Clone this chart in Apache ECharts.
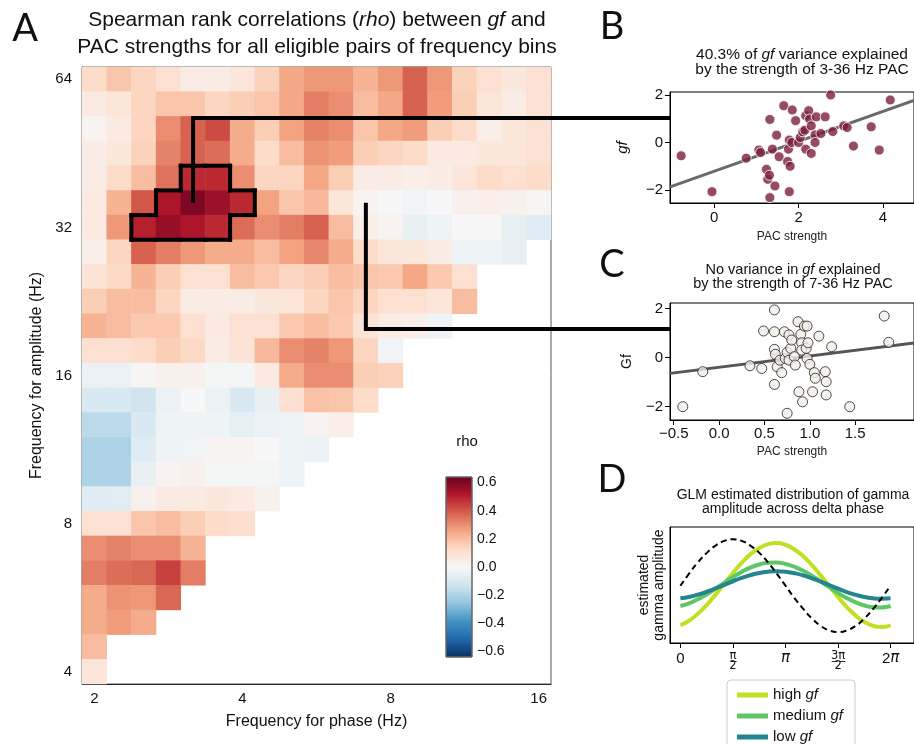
<!DOCTYPE html>
<html>
<head>
<meta charset="utf-8">
<script src="https://cdn.jsdelivr.net/npm/echarts@6/dist/echarts.min.js"></script>
<style>
  html, body { margin: 0; padding: 0; background: #fff; }
  #main { width: 914px; height: 744px; }
</style>
</head>
<body>
<div id="main"></div>
<script>
// ---- panel A : rho heatmap (rows listed from 64 Hz down to 4 Hz) ----
const phaseHz = [2, 2.24, 2.52, 2.83, 3.17, 3.56, 4, 4.49, 5.04, 5.66, 6.35, 7.13, 8, 8.98, 10.08, 11.31, 12.7, 14.25, 16];
const ampHz = [4, 4.49, 5.04, 5.66, 6.35, 7.13, 8, 8.98, 10.08, 11.31, 12.7, 14.25, 16, 17.96, 20.16, 22.63, 25.4, 28.51, 32, 35.92, 40.32, 45.25, 50.8, 57.02, 64];
const rhoRows = [
  [0.12, 0.18, 0.14, 0.10, 0.05, 0.05, 0.08, 0.15, 0.25, 0.28, 0.28, 0.22, 0.28, 0.38, 0.28, 0.15, 0.10, 0.07, 0.10],
  [0.06, 0.08, 0.14, 0.18, 0.18, 0.14, 0.16, 0.18, 0.25, 0.33, 0.30, 0.20, 0.25, 0.38, 0.27, 0.16, 0.08, 0.05, 0.10],
  [0.02, 0.06, 0.14, 0.30, 0.38, 0.42, 0.24, 0.16, 0.26, 0.32, 0.30, 0.18, 0.25, 0.27, 0.16, 0.12, 0.04, 0.08, 0.10],
  [0.05, 0.07, 0.15, 0.32, 0.38, 0.36, 0.24, 0.12, 0.20, 0.29, 0.27, 0.16, 0.14, 0.12, 0.06, 0.06, 0.07, 0.07, 0.10],
  [0.05, 0.12, 0.20, 0.35, 0.48, 0.48, 0.30, 0.14, 0.14, 0.25, 0.16, 0.05, 0.05, 0.04, 0.05, 0.08, 0.12, 0.10, 0.12],
  [0.06, 0.22, 0.40, 0.52, 0.60, 0.55, 0.48, 0.26, 0.18, 0.21, 0.08, 0.02, 0.00, -0.02, 0.00, 0.03, 0.04, 0.03, 0.01],
  [0.06, 0.28, 0.50, 0.56, 0.52, 0.48, 0.36, 0.30, 0.33, 0.38, 0.20, 0.04, 0.02, -0.05, -0.03, 0.00, 0.00, -0.05, -0.08],
  [0.04, 0.14, 0.38, 0.33, 0.28, 0.24, 0.24, 0.20, 0.26, 0.31, 0.24, 0.12, 0.08, 0.07, 0.05, -0.03, -0.03, -0.05],
  [0.09, 0.13, 0.22, 0.16, 0.10, 0.10, 0.20, 0.17, 0.14, 0.16, 0.20, 0.18, 0.17, 0.25, 0.17, 0.10],
  [0.16, 0.20, 0.20, 0.14, 0.05, 0.05, 0.05, 0.07, 0.08, 0.14, 0.18, 0.14, 0.10, 0.10, 0.08, 0.20],
  [0.22, 0.20, 0.17, 0.17, 0.10, 0.06, 0.10, 0.10, 0.17, 0.20, 0.17, 0.09, 0.05, 0.04, -0.03],
  [0.10, 0.10, 0.12, 0.16, 0.13, 0.05, 0.09, 0.21, 0.30, 0.32, 0.28, 0.14, -0.02],
  [-0.04, -0.04, 0.01, 0.03, 0.03, -0.01, -0.01, 0.06, 0.24, 0.30, 0.30, 0.16, 0.15],
  [-0.10, -0.10, -0.13, -0.04, 0.00, -0.04, -0.10, -0.05, 0.10, 0.19, 0.18, 0.12],
  [-0.17, -0.17, -0.10, -0.03, -0.03, -0.03, -0.06, -0.04, -0.03, 0.02, 0.04],
  [-0.20, -0.20, -0.08, -0.03, -0.02, 0.02, 0.02, 0.00, -0.03, -0.04],
  [-0.20, -0.20, -0.05, 0.02, 0.03, -0.01, -0.01, -0.01, -0.03],
  [-0.08, -0.07, 0.03, 0.06, 0.06, 0.07, 0.06, 0.03],
  [0.10, 0.10, 0.18, 0.20, 0.16, 0.12, 0.11],
  [0.30, 0.32, 0.30, 0.30, 0.22],
  [0.33, 0.36, 0.37, 0.44, 0.33],
  [0.24, 0.29, 0.28, 0.37],
  [0.24, 0.27, 0.24],
  [0.20],
  [0.08]
];
// significant cluster, [phase index, amplitude index]
const clusterCells = [[4, 20], [5, 20], [3, 19], [4, 19], [5, 19], [6, 19], [2, 18], [3, 18], [4, 18], [5, 18]];
const rhoTicks = [-0.6, -0.4, -0.2, 0, 0.2, 0.4, 0.6];
const rdbu = ['#053061', '#2166ac', '#4393c3', '#92c5de', '#d1e5f0', '#f7f7f7', '#fddbc7', '#f4a582', '#d6604d', '#b2182b', '#67001f'];

// ---- panel B : 3-36 Hz PAC ----
const bPac = [-0.78, -0.05, 0.76, 1.06, 1.10, 1.32, 1.38, 1.24, 1.27, 1.31, 1.32, 1.44, 1.48, 1.54, 1.65, 1.76, 1.74, 1.80, 1.78, 1.78, 1.84, 1.85, 1.93, 2.00, 2.04, 2.10, 2.15, 2.17, 2.17, 2.24, 2.26, 2.30, 2.30, 2.39, 2.39, 2.42, 2.53, 2.63, 2.76, 2.81, 3.07, 3.15, 3.30, 3.72, 3.91, 4.17];
const bGf = [-0.56, -2.07, -0.66, -0.32, -0.42, 0.97, -0.28, -1.13, -1.55, -1.38, -2.32, -1.83, 0.31, -0.60, 1.55, -0.28, -0.80, -1.00, -2.07, 0.10, 0.00, 1.37, 0.92, 0.00, 0.21, 0.45, 0.52, -0.28, 1.13, 1.34, 0.99, 0.70, -0.46, 0.32, 0.00, 1.08, 0.38, 1.08, 2.00, 0.46, 0.70, 0.63, -0.15, 0.66, -0.32, 1.79];
const bFit = [[-1.04, -1.87], [4.73, 1.77]];

// ---- panel C : 7-36 Hz PAC ----
const cPac = [-0.40, -0.18, 0.34, 0.47, 0.49, 0.61, 0.61, 0.61, 0.62, 0.61, 0.64, 0.67, 0.69, 0.72, 0.73, 0.75, 0.75, 0.77, 0.77, 0.79, 0.80, 0.83, 0.84, 0.87, 0.88, 0.90, 0.91, 0.91, 0.92, 0.94, 0.96, 0.97, 0.98, 0.97, 1.00, 1.03, 1.05, 1.06, 1.10, 1.17, 1.18, 1.18, 1.24, 1.44, 1.82, 1.87];
const cGf = [-2.00, -0.57, -0.33, -0.44, 1.09, 1.95, 1.06, 0.34, 0.14, -1.09, -0.37, -0.10, -0.61, 1.06, -0.03, 0.22, -2.27, 0.93, -0.10, 0.38, 0.72, 0.04, -0.30, 1.47, -1.39, 0.95, 0.61, 0.31, -1.80, 1.29, 0.38, 1.29, 0.61, -0.03, -0.27, -1.39, -0.61, -0.84, 0.88, -0.57, -0.98, -1.52, 0.45, -2.00, 1.70, 0.63];
const cFit = [[-0.54, -0.64], [2.15, 0.60]];

// ---- panel D : GLM amplitude over delta phase (read every 15 degrees) ----
const phaseRad = [0, 0.26, 0.52, 0.79, 1.05, 1.31, 1.57, 1.83, 2.09, 2.36, 2.62, 2.88, 3.14, 3.40, 3.67, 3.93, 4.19, 4.45, 4.71, 4.97, 5.24, 5.50, 5.76, 6.02, 6.28];
const ampHigh = [0.153, 0.192, 0.252, 0.328, 0.417, 0.511, 0.604, 0.691, 0.764, 0.819, 0.852, 0.862, 0.847, 0.808, 0.748, 0.672, 0.583, 0.489, 0.396, 0.309, 0.236, 0.181, 0.148, 0.138, 0.153];
const ampMed = [0.319, 0.342, 0.377, 0.420, 0.469, 0.519, 0.569, 0.613, 0.650, 0.677, 0.691, 0.693, 0.681, 0.658, 0.623, 0.580, 0.531, 0.481, 0.431, 0.387, 0.350, 0.323, 0.309, 0.307, 0.319];
const ampLow = [0.385, 0.397, 0.417, 0.442, 0.470, 0.501, 0.532, 0.561, 0.585, 0.604, 0.615, 0.619, 0.615, 0.602, 0.583, 0.558, 0.530, 0.499, 0.468, 0.439, 0.415, 0.396, 0.385, 0.381, 0.385];
const deltaWave = [0.494, 0.598, 0.694, 0.777, 0.840, 0.880, 0.894, 0.880, 0.840, 0.777, 0.694, 0.598, 0.494, 0.390, 0.294, 0.211, 0.148, 0.108, 0.094, 0.108, 0.148, 0.211, 0.294, 0.390, 0.494];
const piTicks = [0, Math.PI / 2, Math.PI, 1.5 * Math.PI, 2 * Math.PI];
const piLabels = ['0', '{f|\u03c0\u0332}\n{f|2}', '{p|\u03c0}', '{f|3\u0332\u03c0\u0332}\n{f|2}', '2{p|\u03c0}'];

const font = 'Liberation Sans, Arial, Helvetica, sans-serif';
const minus = v => String(v).replace('-', '\u2212');
const zip = (xs, ys) => xs.map((x, i) => [x, ys[i]]);

const heatData = [];
rhoRows.forEach((row, r) => {
  row.forEach((v, c) => heatData.push([c, ampHz.length - 1 - r, v]));
});

function valueAxis(grid, min, max, ticks, extra) {
  return Object.assign({
    gridIndex: grid, type: 'value', min: min, max: max,
    axisLine: { show: true, onZero: false, lineStyle: { color: '#000', width: 1 } },
    axisTick: { show: true, customValues: ticks, length: 5, lineStyle: { color: '#000' } },
    axisLabel: { customValues: ticks, fontSize: 15, color: '#111', fontFamily: font, margin: 7, formatter: minus },
    splitLine: { show: false }
  }, extra);
}

const chart = echarts.init(document.getElementById('main'));

const option = {
  animation: false,
  textStyle: { fontFamily: font },
  grid: [
    { left: 82, top: 67, width: 469, height: 617, show: true, borderColor: '#555', borderWidth: 1 },
    { left: 446, top: 477, width: 26, height: 180 },
    { left: 670, top: 92, width: 260, height: 111, show: true, borderColor: '#000', borderWidth: 1 },
    { left: 670, top: 303, width: 260, height: 117, show: true, borderColor: '#000', borderWidth: 1 },
    { left: 670, top: 527, width: 260, height: 116, show: true, borderColor: '#000', borderWidth: 1 }
  ],
  xAxis: [
    {
      gridIndex: 0, type: 'category', data: phaseHz.map(String),
      axisLine: { lineStyle: { color: '#222' } },
      axisTick: { interval: 5, alignWithLabel: true, length: 6, lineStyle: { color: '#222' } },
      axisLabel: { interval: 5, fontSize: 15, color: '#111', margin: 7, formatter: v => String(Math.round(Number(v))) },
      splitLine: { show: false },
      name: 'Frequency for phase (Hz)', nameLocation: 'middle', nameGap: 30,
      nameTextStyle: { fontSize: 16, color: '#111' }
    },
    { gridIndex: 1, type: 'value', min: 0, max: 1, show: false },
    valueAxis(2, -1.044, 4.733, [0, 2, 4], {
      name: 'PAC strength', nameLocation: 'middle', nameGap: 28,
      nameTextStyle: { fontSize: 12, color: '#222' }
    }),
    valueAxis(3, -0.541, 2.148, [-0.5, 0, 0.5, 1, 1.5], {
      axisLabel: {
        customValues: [-0.5, 0, 0.5, 1, 1.5], fontSize: 15, color: '#111', margin: 6,
        formatter: v => minus(v.toFixed(1))
      },
      name: 'PAC strength', nameLocation: 'middle', nameGap: 26,
      nameTextStyle: { fontSize: 12, color: '#222' }
    }),
    valueAxis(4, -0.31, 6.98, piTicks, {
      axisLabel: {
        customValues: piTicks, fontSize: 15, color: '#111', margin: 8,
        formatter: v => piLabels[piTicks.findIndex(t => Math.abs(t - v) < 1e-6)],
        rich: {
          f: { fontSize: 11.5, lineHeight: 10, color: '#111', fontFamily: 'DejaVu Sans' },
          p: { fontSize: 15, color: '#111', fontFamily: 'DejaVu Sans', fontStyle: 'italic' }
        }
      }
    })
  ],
  yAxis: [
    {
      gridIndex: 0, type: 'category', data: ampHz.map(String),
      axisLine: { lineStyle: { color: '#222' } },
      axisTick: { interval: 5, alignWithLabel: true, length: 6, lineStyle: { color: '#222' } },
      axisLabel: { interval: 5, fontSize: 15, color: '#111', margin: 10, formatter: v => String(Math.round(Number(v))) },
      splitLine: { show: false },
      name: 'Frequency for amplitude (Hz)', nameLocation: 'middle', nameGap: 34,
      nameTextStyle: { fontSize: 16, color: '#111' }
    },
    valueAxis(1, -0.64, 0.64, rhoTicks, {
      position: 'right',
      axisLine: { show: false },
      axisTick: { show: true, customValues: rhoTicks, length: 4, lineStyle: { color: '#333' } },
      axisLabel: { customValues: rhoTicks, fontSize: 14, color: '#111', margin: 5, formatter: v => minus(v.toFixed(1)) }
    }),
    valueAxis(2, -2.547, 2.126, [-2, 0, 2], {
      name: 'gf', nameLocation: 'middle', nameGap: 40,
      nameTextStyle: { fontSize: 15, fontStyle: 'italic', color: '#111' }
    }),
    valueAxis(3, -2.543, 2.233, [-2, 0, 2], {
      name: 'Gf', nameLocation: 'middle', nameGap: 36,
      nameTextStyle: { fontSize: 14, color: '#111' }
    }),
    valueAxis(4, 0, 1, [], {
      axisTick: { show: false }, axisLabel: { show: false },
      name: 'estimated\ngamma amplitude', nameLocation: 'middle', nameGap: 3,
      nameTextStyle: { fontSize: 14, lineHeight: 15, color: '#111' }
    })
  ],
  visualMap: {
    type: 'continuous', show: false, seriesIndex: 0,
    min: -0.64, max: 0.64, inRange: { color: rdbu }
  },
  legend: {
    data: ['high gf', 'medium gf', 'low gf'],
    left: 727, top: 680, height: 90, orient: 'vertical',
    borderColor: '#ccc', borderWidth: 1, borderRadius: 4,
    padding: [7, 12, 10, 10], itemWidth: 31, itemHeight: 5, itemGap: 5, icon: 'rect',
    formatter: n => n.replace('gf', '{i|gf}'),
    textStyle: {
      fontSize: 15, lineHeight: 16, color: '#111',
      rich: { i: { fontSize: 15, fontStyle: 'italic', color: '#111' } }
    }
  },
  series: [
    {
      type: 'heatmap', xAxisIndex: 0, yAxisIndex: 0, data: heatData,
      itemStyle: { borderWidth: 0 }, emphasis: { disabled: true }
    },
    {
      type: 'custom', xAxisIndex: 0, yAxisIndex: 0, data: clusterCells, z: 5,
      renderItem: function (params, api) {
        const c = api.value(0), r = api.value(1);
        const p = api.coord([c, r]), s = api.size([1, 1]);
        const x0 = p[0] - s[0] / 2, x1 = p[0] + s[0] / 2, y0 = p[1] - s[1] / 2, y1 = p[1] + s[1] / 2;
        const has = (cc, rr) => clusterCells.some(d => d[0] === cc && d[1] === rr);
        const edges = [];
        if (!has(c, r + 1)) edges.push([x0, y0, x1, y0]);
        if (!has(c, r - 1)) edges.push([x0, y1, x1, y1]);
        if (!has(c - 1, r)) edges.push([x0, y0, x0, y1]);
        if (!has(c + 1, r)) edges.push([x1, y0, x1, y1]);
        return {
          type: 'group',
          children: edges.map(e => ({
            type: 'line',
            shape: { x1: e[0], y1: e[1], x2: e[2], y2: e[3] },
            style: { stroke: '#000', lineWidth: 4, lineCap: 'square' }
          }))
        };
      }
    },
    {
      type: 'custom', xAxisIndex: 1, yAxisIndex: 1, data: [[0, 0]],
      renderItem: function (params, api) {
        const a = api.coord([0, 0.64]), b = api.coord([1, -0.64]);
        const stops = rdbu.slice().reverse().map((col, i) => ({ offset: i / (rdbu.length - 1), color: col }));
        return {
          type: 'rect',
          shape: { x: a[0], y: a[1], width: b[0] - a[0], height: b[1] - a[1] },
          style: { fill: new echarts.graphic.LinearGradient(0, 0, 0, 1, stops), stroke: '#666', lineWidth: 1 }
        };
      }
    },
    {
      type: 'scatter', xAxisIndex: 2, yAxisIndex: 2, data: zip(bPac, bGf), symbolSize: 10,
      itemStyle: { color: '#7b1d3f', borderColor: '#fff', borderWidth: 1 }, z: 3
    },
    {
      type: 'line', xAxisIndex: 2, yAxisIndex: 2, data: bFit, symbol: 'none', z: 2,
      lineStyle: { color: '#6a6a6a', width: 3 }
    },
    {
      type: 'scatter', xAxisIndex: 3, yAxisIndex: 3, data: zip(cPac, cGf), symbolSize: 10,
      itemStyle: { color: '#f3eee8', borderColor: '#222', borderWidth: 1 }, z: 3
    },
    {
      type: 'line', xAxisIndex: 3, yAxisIndex: 3, data: cFit, symbol: 'none', z: 2,
      lineStyle: { color: '#555', width: 3 }
    },
    {
      name: 'high gf', type: 'line', xAxisIndex: 4, yAxisIndex: 4, data: zip(phaseRad, ampHigh),
      smooth: true, symbol: 'none', color: '#c3df22', lineStyle: { width: 4 }
    },
    {
      name: 'medium gf', type: 'line', xAxisIndex: 4, yAxisIndex: 4, data: zip(phaseRad, ampMed),
      smooth: true, symbol: 'none', color: '#5ec664', lineStyle: { width: 4 }
    },
    {
      name: 'low gf', type: 'line', xAxisIndex: 4, yAxisIndex: 4, data: zip(phaseRad, ampLow),
      smooth: true, symbol: 'none', color: '#23858d', lineStyle: { width: 4 }
    },
    {
      name: 'delta', type: 'line', xAxisIndex: 4, yAxisIndex: 4, data: zip(phaseRad, deltaWave),
      smooth: true, symbol: 'none', color: '#000', lineStyle: { width: 2, type: [6, 4] }
    }
  ]
};
chart.setOption(option);

// connectors from the two cluster cells to panels B and C, plus labels
const fromB = chart.convertToPixel({ gridIndex: 0 }, [4, 19]);
const fromC = chart.convertToPixel({ gridIndex: 0 }, [11, 19]);
const txt = (x, y, text, size, extra) => ({
  type: 'text', x: x, y: y, z: 100,
  style: Object.assign({
    text: text, fontSize: size, fontFamily: font, fill: '#111',
    align: 'center', verticalAlign: 'middle', textAlign: 'center', textVerticalAlign: 'middle',
    rich: { i: { fontSize: size, fontStyle: 'italic', fontFamily: font, fill: '#111' } }
  }, extra || {})
});
const letter = (x, y, t) => txt(x, y, t, 38, { fontFamily: 'Lato, Open Sans, sans-serif' });

chart.setOption({
  graphic: [
    {
      type: 'polyline', z: 100,
      shape: { points: [fromB, [fromB[0], 118], [670, 118]] },
      style: { stroke: '#000', lineWidth: 4, fill: 'none' }
    },
    {
      type: 'polyline', z: 100,
      shape: { points: [fromC, [fromC[0], 329], [670, 329]] },
      style: { stroke: '#000', lineWidth: 4, fill: 'none' }
    },
    letter(25, 29, 'A'),
    letter(612, 27, 'B'),
    letter(612, 265, 'C'),
    letter(612, 480, 'D'),
    txt(317, 34, 'Spearman rank correlations ({i|rho}) between {i|gf} and\nPAC strengths for all eligible pairs of frequency bins', 21, { lineHeight: 27 }),
    txt(802, 62, '40.3% of {i|gf} variance explained\nby the strength of 3-36 Hz PAC', 15.5, { lineHeight: 14.5 }),
    txt(793, 277, 'No variance in {i|gf} explained\nby the strength of 7-36 Hz PAC', 14.5, { lineHeight: 13.5 }),
    txt(793, 502, 'GLM estimated distribution of gamma\namplitude across delta phase', 14, { lineHeight: 14.5 }),
    txt(467, 442, 'rho', 15)
  ]
});
</script>
</body>
</html>
